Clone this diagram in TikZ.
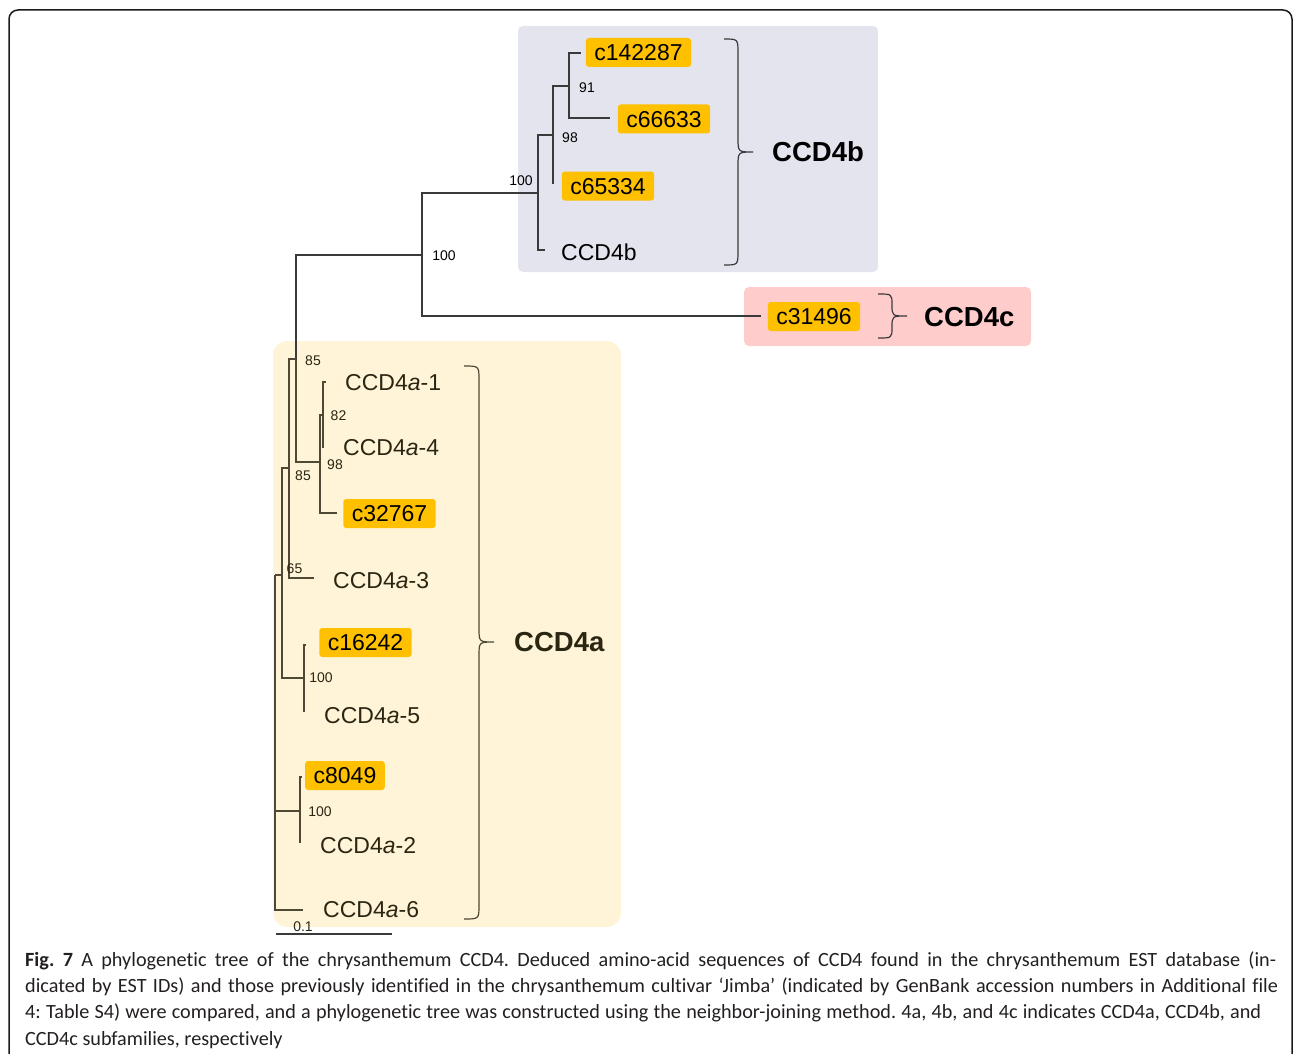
\documentclass[tikz,border=0pt]{standalone}
\usepackage{fontspec}
\setmainfont{Liberation Sans}
\newfontfamily\capfont[Ligatures=NoCommon]{Carlito}
\definecolor{boxgray}{HTML}{E4E4EE}
\definecolor{boxpink}{HTML}{FFCCCC}
\definecolor{boxcream}{HTML}{FFF4D8}
\definecolor{hilite}{HTML}{FFC000}
\definecolor{lineout}{HTML}{3A3A3A}
\definecolor{linein}{HTML}{4E4834}
\definecolor{textin}{HTML}{2A2612}
\definecolor{captext}{HTML}{231F20}
\definecolor{framecol}{HTML}{1A1A1A}
\frenchspacing
\begin{document}
\begin{tikzpicture}[x=1pt,y=-1pt,
  treeln/.style={draw=lineout, line width=1.3pt},
  treelnA/.style={draw=linein, line width=1.3pt},
  hibox/.style={fill=hilite, rounded corners=3pt, text height=16.5pt, text depth=0pt, inner ysep=6.25pt, inner xsep=8.5pt, font=\fontsize{23}{23}\selectfont, text=black},
  leaflbl/.style={inner sep=0pt, text height=16.5pt, text depth=0pt, anchor=west, font=\fontsize{23}{23}\selectfont, text=black},
  cladelbl/.style={inner sep=0pt, text height=19.7pt, text depth=0pt, anchor=west, font=\bfseries\fontsize{27.5}{27.5}\selectfont, text=black},
  bootlbl/.style={inner sep=0pt, font=\fontsize{14}{14}\selectfont, text=black},
  bracestyle/.style={line width=1.2pt},
  capline/.style={inner sep=0pt, anchor=base west, font=\capfont\frenchspacing\fontsize{20.2}{26}\selectfont, text=captext},
]
\useasboundingbox (0,0) rectangle (1293,1054);

% outer frame
\draw[framecol, line width=1.5pt, rounded corners=9pt] (9,1080) -- (9,10) -- (1292,10) -- (1292,1080);

% group backgrounds
\fill[boxgray, rounded corners=5pt] (518,26) rectangle (878,272);
\fill[boxpink, rounded corners=5pt] (744,287) rectangle (1031,346);
\fill[boxcream, rounded corners=14pt] (273,341) rectangle (621,927);

% internal nodes of the tree
\coordinate (root) at (275,575);
\coordinate (nC) at (282,575);
\coordinate (nB) at (289,468);
\coordinate (nA) at (296,359);
\coordinate (nBC) at (422,255);
\coordinate (nB4) at (538,193);
\coordinate (n98) at (553,135);
\coordinate (n91) at (569,86);
\coordinate (n98a) at (320,462);
\coordinate (n82) at (323,415);
\coordinate (n100a) at (304,678);
\coordinate (n100b) at (300,811);
% leaf tips
\coordinate (t142287) at (581,53);
\coordinate (t66633) at (610,118);
\coordinate (t65334) at (553,184);
\coordinate (tB) at (545,250);
\coordinate (tC) at (761,316);
\coordinate (t1) at (326,382);
\coordinate (t4) at (323,448);
\coordinate (t32767) at (337,513);
\coordinate (t3) at (314,578);
\coordinate (t16242) at (306,645);
\coordinate (t5) at (304,712);
\coordinate (t8049) at (302,777);
\coordinate (t2) at (300,843);
\coordinate (t6) at (303,910);

% branches outside CCD4a
\draw[treeln] (nA) |- (nBC);
\draw[treeln] (nBC) |- (nB4);
\draw[treeln] (nBC) |- (tC);
\draw[treeln] (nB4) |- (n98);
\draw[treeln] (nB4) |- (tB);
\draw[treeln] (n98) |- (n91);
\draw[treeln] (n98) |- (t65334);
\draw[treeln] (n91) |- (t142287);
\draw[treeln] (n91) |- (t66633);
% branches inside CCD4a
\draw[treelnA] (root) |- (nC);
\draw[treelnA] (root) |- (n100b);
\draw[treelnA] (root) |- (t6);
\draw[treelnA] (nC) |- (nB);
\draw[treelnA] (nC) |- (n100a);
\draw[treelnA] (nB) |- (nA);
\draw[treelnA] (nB) |- (t3);
\draw[treelnA] (nA) |- (n98a);
\draw[treelnA] (n98a) |- (n82);
\draw[treelnA] (n98a) |- (t32767);
\draw[treelnA] (n82) |- (t1);
\draw[treelnA] (n82) |- (t4);
\draw[treelnA] (n100a) |- (t16242);
\draw[treelnA] (n100a) |- (t5);
\draw[treelnA] (n100b) |- (t8049);
\draw[treelnA] (n100b) |- (t2);

% bootstrap values
\node[bootlbl] (b1) at (521,181) {100};
\node[bootlbl] (b2) at (444,256) {100};
\node[bootlbl] (b3) at (570,137.5) {98};
\node[bootlbl] (b4) at (587,87.5) {91};
\node[bootlbl, text=textin] (b5) at (313,361) {85};
\node[bootlbl, text=textin] (b6) at (338.5,416) {82};
\node[bootlbl, text=textin] (b7) at (335,465) {98};
\node[bootlbl, text=textin] (b8) at (303,475.5) {85};
\node[bootlbl, text=textin] (b9) at (294.5,569) {65};
\node[bootlbl, text=textin] (b10) at (321,678) {100};
\node[bootlbl, text=textin] (b11) at (320,812) {100};

% leaf labels
\node[hibox] (L142287) at (638.5,52.5) {c142287};
\node[hibox] (L66633) at (664,119) {c66633};
\node[hibox] (L65334) at (608,186) {c65334};
\node[leaflbl] (LCCD4b) at (561,252) {CCD4b};
\node[hibox] (L31496) at (814,316.5) {c31496};
\node[leaflbl, text=textin] (La1) at (345,382) {CCD4\textit{a}-1};
\node[leaflbl, text=textin] (La4) at (343,447) {CCD4\textit{a}-4};
\node[hibox] (L32767) at (389.5,513.5) {c32767};
\node[leaflbl, text=textin] (La3) at (333,580) {CCD4\textit{a}-3};
\node[hibox] (L16242) at (365.5,642.5) {c16242};
\node[leaflbl, text=textin] (La5) at (324,715) {CCD4\textit{a}-5};
\node[hibox] (L8049) at (345,775.5) {c8049};
\node[leaflbl, text=textin] (La2) at (320,845) {CCD4\textit{a}-2};
\node[leaflbl, text=textin] (La6) at (323,909) {CCD4\textit{a}-6};

% braces
\draw[bracestyle, lineout] (724,39) .. controls (738,39) and (738,39) .. (738,53) -- (738,138)
  .. controls (738,152) and (738,152) .. (753,152)
  .. controls (738,152) and (738,152) .. (738,166) -- (738,251)
  .. controls (738,265) and (738,265) .. (724,265);
\draw[bracestyle, lineout] (878,294) .. controls (892,294) and (892,294) .. (892,305)
  .. controls (892,316) and (892,316) .. (907,316)
  .. controls (892,316) and (892,316) .. (892,327)
  .. controls (892,338) and (892,338) .. (878,338);
\draw[bracestyle, linein] (464,366) .. controls (479,366) and (479,366) .. (479,380) -- (479,628)
  .. controls (479,642) and (479,642) .. (494,642)
  .. controls (479,642) and (479,642) .. (479,656) -- (479,905)
  .. controls (479,919) and (479,919) .. (464,919);

% group labels
\node[cladelbl] (G4b) at (772,152) {CCD4b};
\node[cladelbl] (G4c) at (924,317) {CCD4c};
\node[cladelbl, text=textin] (G4a) at (514,642) {CCD4a};

% scale bar
\coordinate (sb1) at (276,934);
\coordinate (sb2) at (392,934);
\draw[lineout, line width=1.5pt] (sb1) -- (sb2);
\node[bootlbl, text=textin] (sbl) at (303,927) {0.1};

% caption
\node[capline] (cap1) at (25,966) {\makebox[1251pt][s]{\textbf{Fig. 7} A phylogenetic tree of the chrysanthemum CCD4. Deduced amino-acid sequences of CCD4 found in the chrysanthemum EST database (in-}};
\node[capline] (cap2) at (25,992.3) {\makebox[1253pt][s]{dicated by EST IDs) and those previously identified in the chrysanthemum cultivar ‘Jimba’ (indicated by GenBank accession numbers in Additional file}};
\node[capline] (cap3) at (25,1018.6) {\makebox[1236pt][s]{4: Table S4) were compared, and a phylogenetic tree was constructed using the neighbor-joining method. 4a, 4b, and 4c indicates CCD4a, CCD4b, and}};
\node[capline] (cap4) at (25,1045) {CCD4c subfamilies, respectively};
\end{tikzpicture}
\end{document}
